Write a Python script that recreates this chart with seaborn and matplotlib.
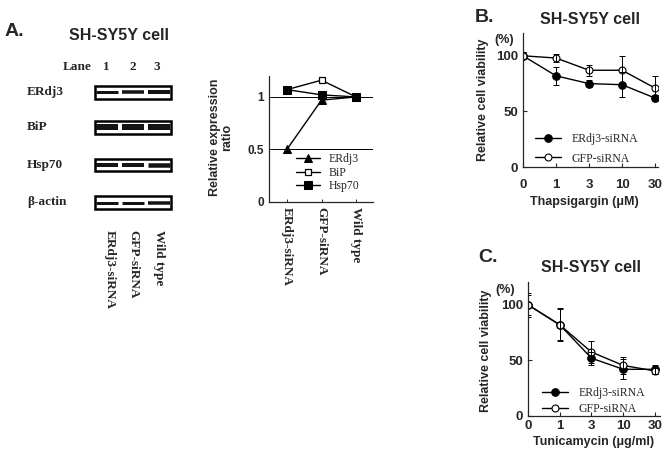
import numpy as np
import pandas as pd
import seaborn as sns
import matplotlib.pyplot as plt
from matplotlib.patches import Rectangle

sns.set_style('ticks')
plt.rcParams['font.family'] = ['Liberation Sans', 'DejaVu Sans']
plt.rcParams['axes.linewidth'] = 0.9

# Western blot (band thickness in px, per lane)
blot_rows = ['ERdj3', 'BiP', 'Hsp70', 'β-actin']
lane_numbers = ['1', '2', '3']
lane_names = ['ERdj3-siRNA', 'GFP-siRNA', 'Wild type']
band_px = [[3.0, 3.5, 4.0], [6.0, 6.0, 6.0], [4.0, 4.0, 4.5], [3.0, 3.0, 3.5]]

# Relative expression ratio
expr_erdj3 = [0.5, 0.97, 1.0]
expr_bip = [1.07, 1.16, 1.0]
expr_hsp70 = [1.07, 1.02, 1.0]

# Cell viability (%)
doses = ['0', '1', '3', '10', '30']
thap_erdj3 = [100, 82, 75, 74, 62]
thap_erdj3_err = [3, 8, 3, 11, 3]
thap_gfp = [100, 98, 87, 87, 71]
thap_gfp_err = [3, 4, 5, 13, 11]
tuni_erdj3 = [100, 82, 52, 42, 42]
tuni_erdj3_err = [11, 15, 6, 9, 4]
tuni_gfp = [100, 82, 57.5, 45.5, 40.5]
tuni_gfp_err = [9, 14, 10, 8, 3]

W, H = 664, 459
fig = plt.figure(figsize=(W / 100, H / 100), dpi=100)


def fx(px):
    return px / W


def fy(py):
    return 1 - py / H


def box(left, top, right, bottom):
    return [fx(left), fy(bottom), (right - left) / W, (bottom - top) / H]


serif_b = dict(family='Liberation Serif', weight='bold', size=9.5)
serif_leg = {'family': 'Liberation Serif', 'size': 8.5}

# ---------------- Panel A: blot ----------------
fig.text(fx(5), fy(32), 'A.', fontsize=14, weight='bold', va='center')
fig.text(fx(119), fy(36), 'SH-SY5Y cell', fontsize=11.5, weight='bold', ha='center', va='center')
fig.text(fx(92), fy(67), 'Lane', ha='right', va='center', **serif_b)
for xp, n in zip([106, 133, 157], lane_numbers):
    fig.text(fx(xp), fy(67), n, ha='center', va='center', **serif_b)

row_y = [92.5, 127.5, 165, 202.5]
axblot = fig.add_axes(box(94, 80, 172, 215))
axblot.set_xlim(-0.5, 2.5)
axblot.set_ylim(215, 80)
axblot.axis('off')
for r, name in enumerate(blot_rows):
    c = row_y[r]
    axblot.add_patch(Rectangle((-0.47, c - 6.3), 2.94, 12.6, fill=False, ec='black', lw=1.8, clip_on=False))
    for lane in range(3):
        axblot.hlines(c, lane - 0.42, lane + 0.42, color='#141414', lw=band_px[r][lane] * 0.72)
    fig.text(fx(27), fy(c), name, ha='left', va='center', **serif_b)

for xp, name in zip([110, 133, 159], lane_names):
    fig.text(fx(xp), fy(230), name, rotation=-90, ha='center', va='top', **serif_b)

# ---------------- Panel A: expression ratio ----------------
axA = fig.add_axes(box(269, 76, 373, 201.7))
xs = [0, 1, 2]
sns.lineplot(x=xs, y=expr_erdj3, ax=axA, color='black', lw=1, marker='^', markersize=5.5,
             markeredgecolor='black', markerfacecolor='black', label='ERdj3')
sns.lineplot(x=xs, y=expr_bip, ax=axA, color='black', lw=1, marker='s', markersize=5,
             markeredgecolor='black', markerfacecolor='white', markeredgewidth=0.9, label='BiP')
sns.lineplot(x=xs, y=expr_hsp70, ax=axA, color='black', lw=1, marker='s', markersize=5.5,
             markeredgecolor='black', markerfacecolor='black', label='Hsp70')
axA.axhline(0.5, color='black', lw=0.7, zorder=0)
axA.axhline(1.0, color='black', lw=0.7, zorder=0)
axA.set_xlim(-0.52, 2.49)
axA.set_ylim(0, 1.2)
axA.set_yticks([0, 0.5, 1])
axA.set_yticklabels(['0', '0.5', '1'], fontsize=8.5, weight='bold')
axA.set_xticks(xs)
axA.set_xticklabels(lane_names, rotation=-90, va='top', ha='center', fontdict=serif_b)
axA.tick_params(direction='in', length=2, width=0.7, pad=3.5)
sns.despine(ax=axA)
axA.legend(loc='upper left', bbox_to_anchor=(0.26, 0.385), frameon=False, prop=serif_leg,
           borderaxespad=0, borderpad=0, handlelength=2.0, handletextpad=0.8, labelspacing=0.12)
fig.text(fx(221), fy(137), 'Relative expression\nratio', rotation=90, ha='center', va='center',
         fontsize=9, weight='bold', multialignment='center', linespacing=1.0)


# ---------------- Panels B and C ----------------
def viability(ax, erdj3, erdj3_err, gfp, gfp_err, xmax, leg_anchor, lab_spacing, xpad):
    xpos = np.arange(len(doses))
    sns.lineplot(x=xpos, y=erdj3, ax=ax, color='black', lw=1, marker='o', markersize=5.5,
                 markeredgecolor='black', markerfacecolor='black', label='ERdj3-siRNA')
    sns.lineplot(x=xpos, y=gfp, ax=ax, color='black', lw=1, marker='o', markersize=5,
                 markeredgecolor='black', markerfacecolor='white', markeredgewidth=0.8, label='GFP-siRNA')
    ax.errorbar(xpos, erdj3, yerr=erdj3_err, fmt='none', ecolor='black', elinewidth=0.7, capsize=2, capthick=0.7)
    ax.errorbar(xpos, gfp, yerr=gfp_err, fmt='none', ecolor='black', elinewidth=0.7, capsize=2, capthick=0.7)
    ax.set_xlim(0, xmax)
    ax.set_ylim(0, 120.5)
    ax.set_yticks([0, 50, 100])
    ax.set_yticklabels(['0', '50', '100'], fontsize=9.5, weight='bold')
    ax.set_xticks(xpos)
    ax.set_xticklabels(doses, fontsize=9.5, weight='bold')
    ax.tick_params(direction='in', length=3, width=0.8)
    ax.tick_params(axis='y', pad=3.5)
    ax.tick_params(axis='x', pad=xpad)
    sns.despine(ax=ax)
    ax.set_ylabel('Relative cell viability', fontsize=9, weight='bold')
    handles, labels = ax.get_legend_handles_labels()
    ax.legend(handles[:2], labels[:2], loc='upper left', bbox_to_anchor=leg_anchor, frameon=False,
              prop={'family': 'Liberation Serif', 'size': 8.5}, borderaxespad=0, borderpad=0,
              handlelength=2.2, handletextpad=0.9, labelspacing=lab_spacing)


axB = fig.add_axes(box(523, 33, 658, 167))
viability(axB, thap_erdj3, thap_erdj3_err, thap_gfp, thap_gfp_err, 4.09, (0.089, 0.255), 0.65, 8.5)
axB.yaxis.set_label_coords(-0.25, 0.5)
fig.text(fx(475), fy(17), 'B.', fontsize=14, weight='bold', va='center')
fig.text(fx(590), fy(20), 'SH-SY5Y cell', fontsize=11.5, weight='bold', ha='center', va='center')
fig.text(fx(504), fy(40), '(%)', fontsize=9, weight='bold', ha='center', va='center')
fig.text(fx(584), fy(202), 'Thapsigargin (μM)', fontsize=9, weight='bold', ha='center', va='center')

axC = fig.add_axes(box(528, 282, 660, 416))
viability(axC, tuni_erdj3, tuni_erdj3_err, tuni_gfp, tuni_gfp_err, 4.16, (0.106, 0.215), 0.3, 3)
axC.yaxis.set_label_coords(-0.27, 0.49)
fig.text(fx(478), fy(258), 'C.', fontsize=14, weight='bold', va='center')
fig.text(fx(591), fy(268), 'SH-SY5Y cell', fontsize=11.5, weight='bold', ha='center', va='center')
fig.text(fx(505), fy(290), '(%)', fontsize=9, weight='bold', ha='center', va='center')
fig.text(fx(594), fy(442), 'Tunicamycin (μg/ml)', fontsize=9, weight='bold', ha='center', va='center')

fig.savefig('out.png', dpi=100, facecolor='white')
